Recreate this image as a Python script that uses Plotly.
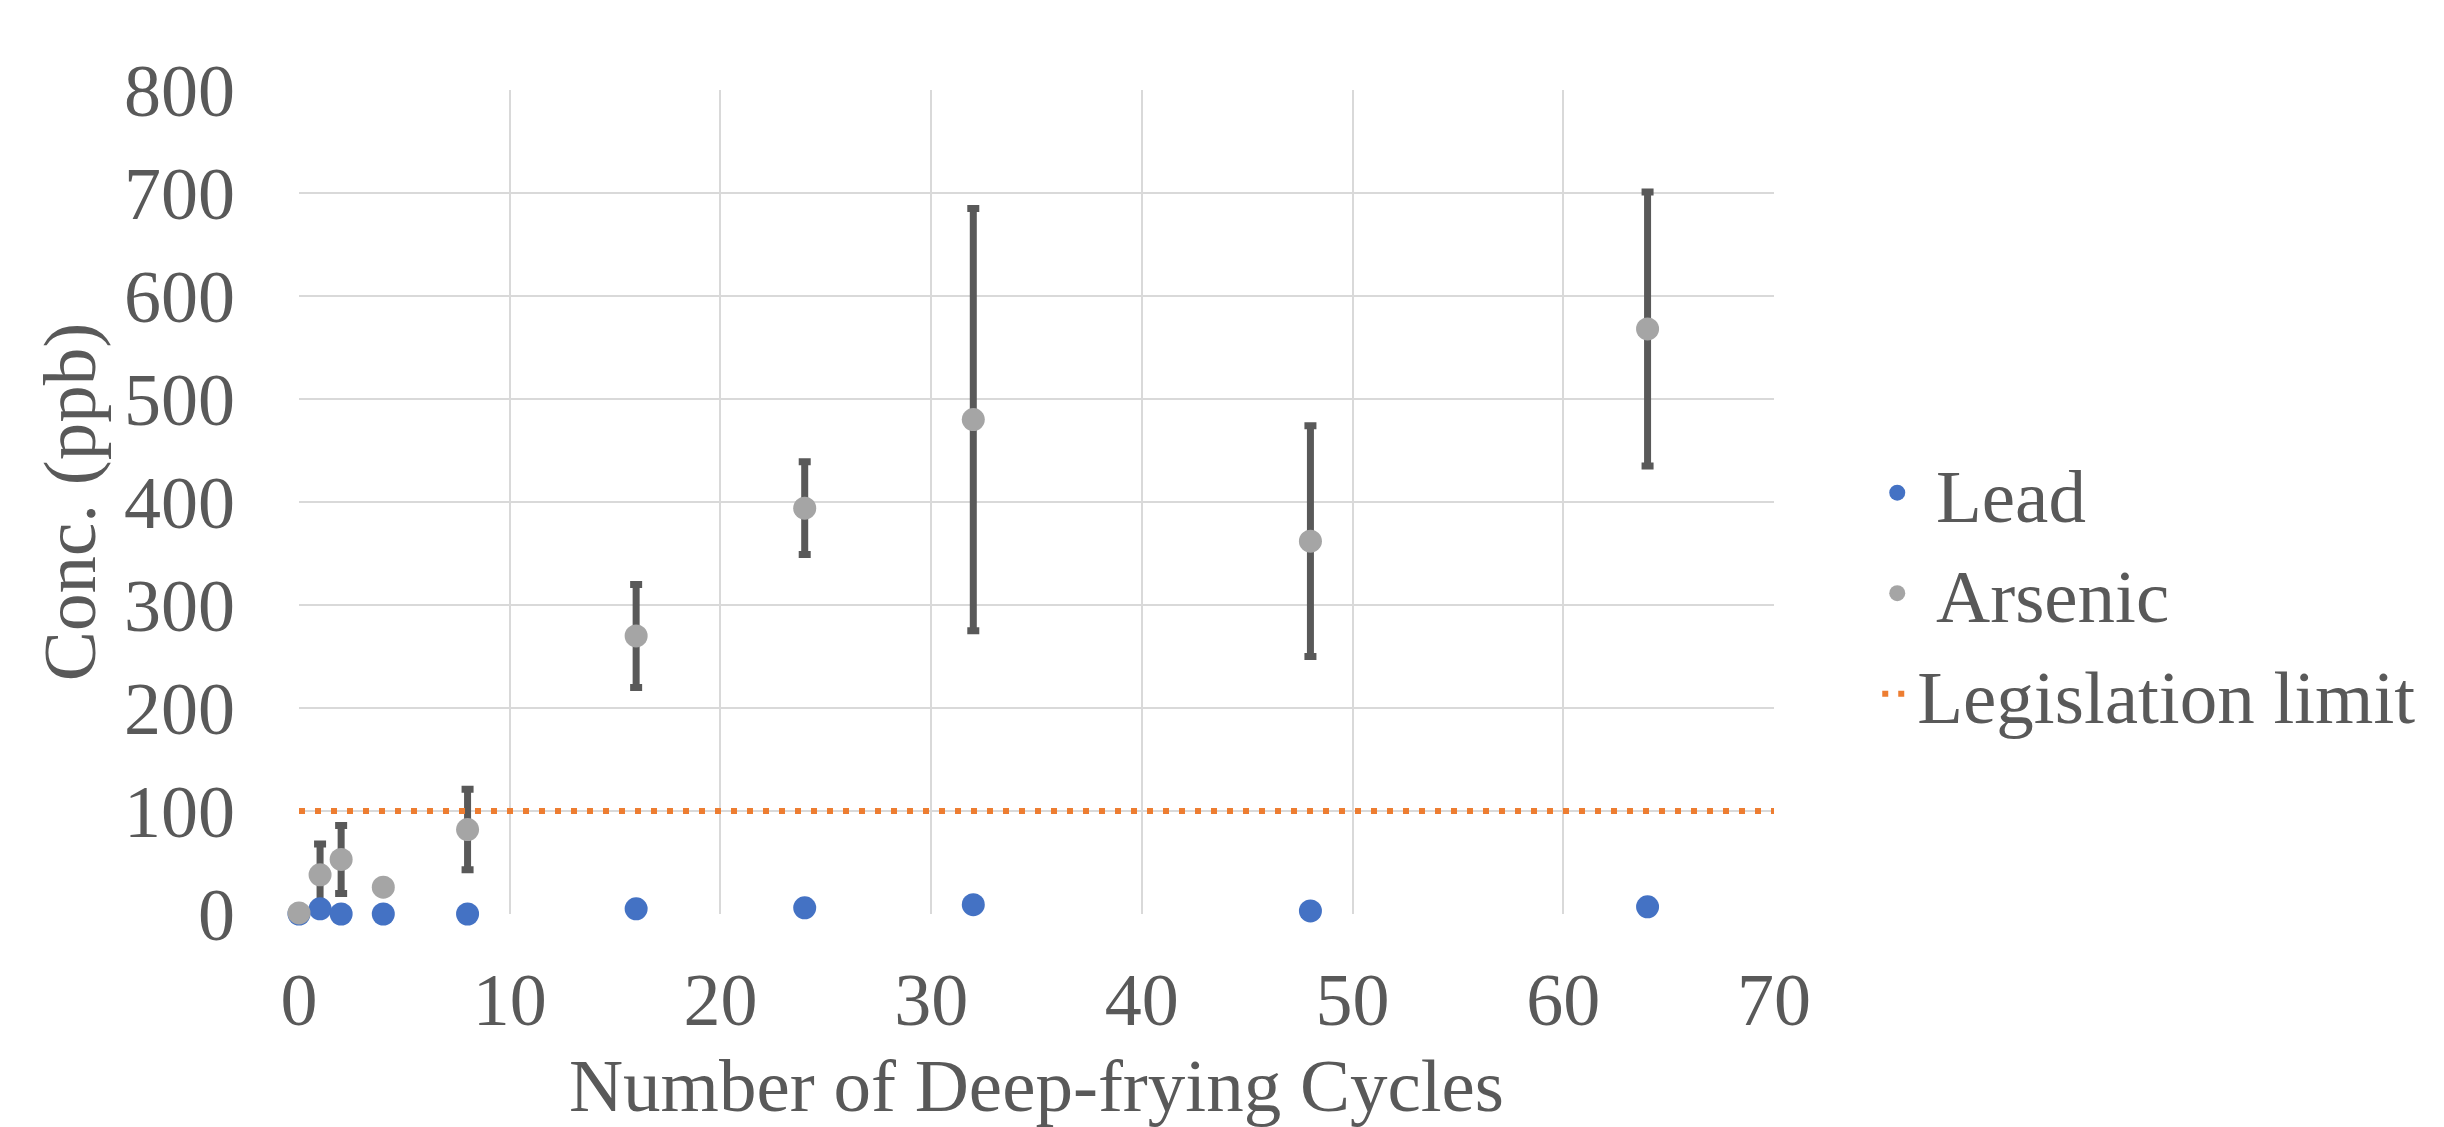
import plotly.graph_objects as go

cycles = [0, 1, 2, 4, 8, 16, 24, 32, 48, 64]
lead = [0, 5, 0, 0, 0, 5, 6, 9, 3, 7]
arsenic = [1, 38, 53, 26, 82, 270, 394, 480, 362, 568]
arsenic_err = [0, 30, 33, 0, 39, 50, 45, 205, 112, 133]
limit_x = [0, 70]
limit_y = [100, 100]

FONT = "Liberation Serif, Times New Roman, serif"
TXT = "#595959"
NB = "\u00a0"

fig = go.Figure()

# error bars for arsenic (drawn first, below all markers)
fig.add_trace(go.Scatter(
    x=cycles, y=arsenic, mode="markers",
    marker=dict(size=1, color="rgba(0,0,0,0)"),
    error_y=dict(type="data", array=arsenic_err, visible=True,
                 color="#595959", thickness=7, width=6),
    showlegend=False, hoverinfo="skip", cliponaxis=False,
))
fig.add_trace(go.Scatter(
    x=cycles, y=lead, mode="markers", name=NB + "Lead",
    marker=dict(size=23, color="#4472C4"), cliponaxis=False,
))
fig.add_trace(go.Scatter(
    x=cycles, y=arsenic, mode="markers", name=NB + "Arsenic",
    marker=dict(size=23, color="#A5A5A5"), cliponaxis=False,
))
fig.add_trace(go.Scatter(
    x=limit_x, y=limit_y, mode="lines", name="Legislation limit",
    line=dict(color="#ED7D31", width=6, dash="6px,10px"),
))

fig.update_layout(
    width=2444, height=1127,
    margin=dict(l=291, r=678, t=82, b=221),
    paper_bgcolor="white", plot_bgcolor="white",
    font=dict(family=FONT, size=74, color=TXT),
    legend=dict(x=1.07, xanchor="left", y=0.389, yanchor="middle",
                font=dict(size=75, color=TXT), tracegroupgap=0,
                bgcolor="rgba(0,0,0,0)"),
    xaxis=dict(range=[0, 70], dtick=10, showgrid=True, gridcolor="#D9D9D9",
               gridwidth=2, zeroline=False, showline=False,
               ticks="", ticklabelstandoff=36,
               tickfont=dict(size=74, color=TXT),
               title=dict(text="Number of Deep-frying Cycles", standoff=18,
                          font=dict(size=75, color=TXT))),
    yaxis=dict(range=[0, 800], dtick=100, showgrid=True, gridcolor="#D9D9D9",
               gridwidth=2, zeroline=False, showline=False,
               ticks="", ticklabelstandoff=63,
               tickfont=dict(size=74, color=TXT),
               title=dict(text="Conc. (ppb)", standoff=3,
                          font=dict(size=75, color=TXT))),
)

fig.write_html("out.html")
